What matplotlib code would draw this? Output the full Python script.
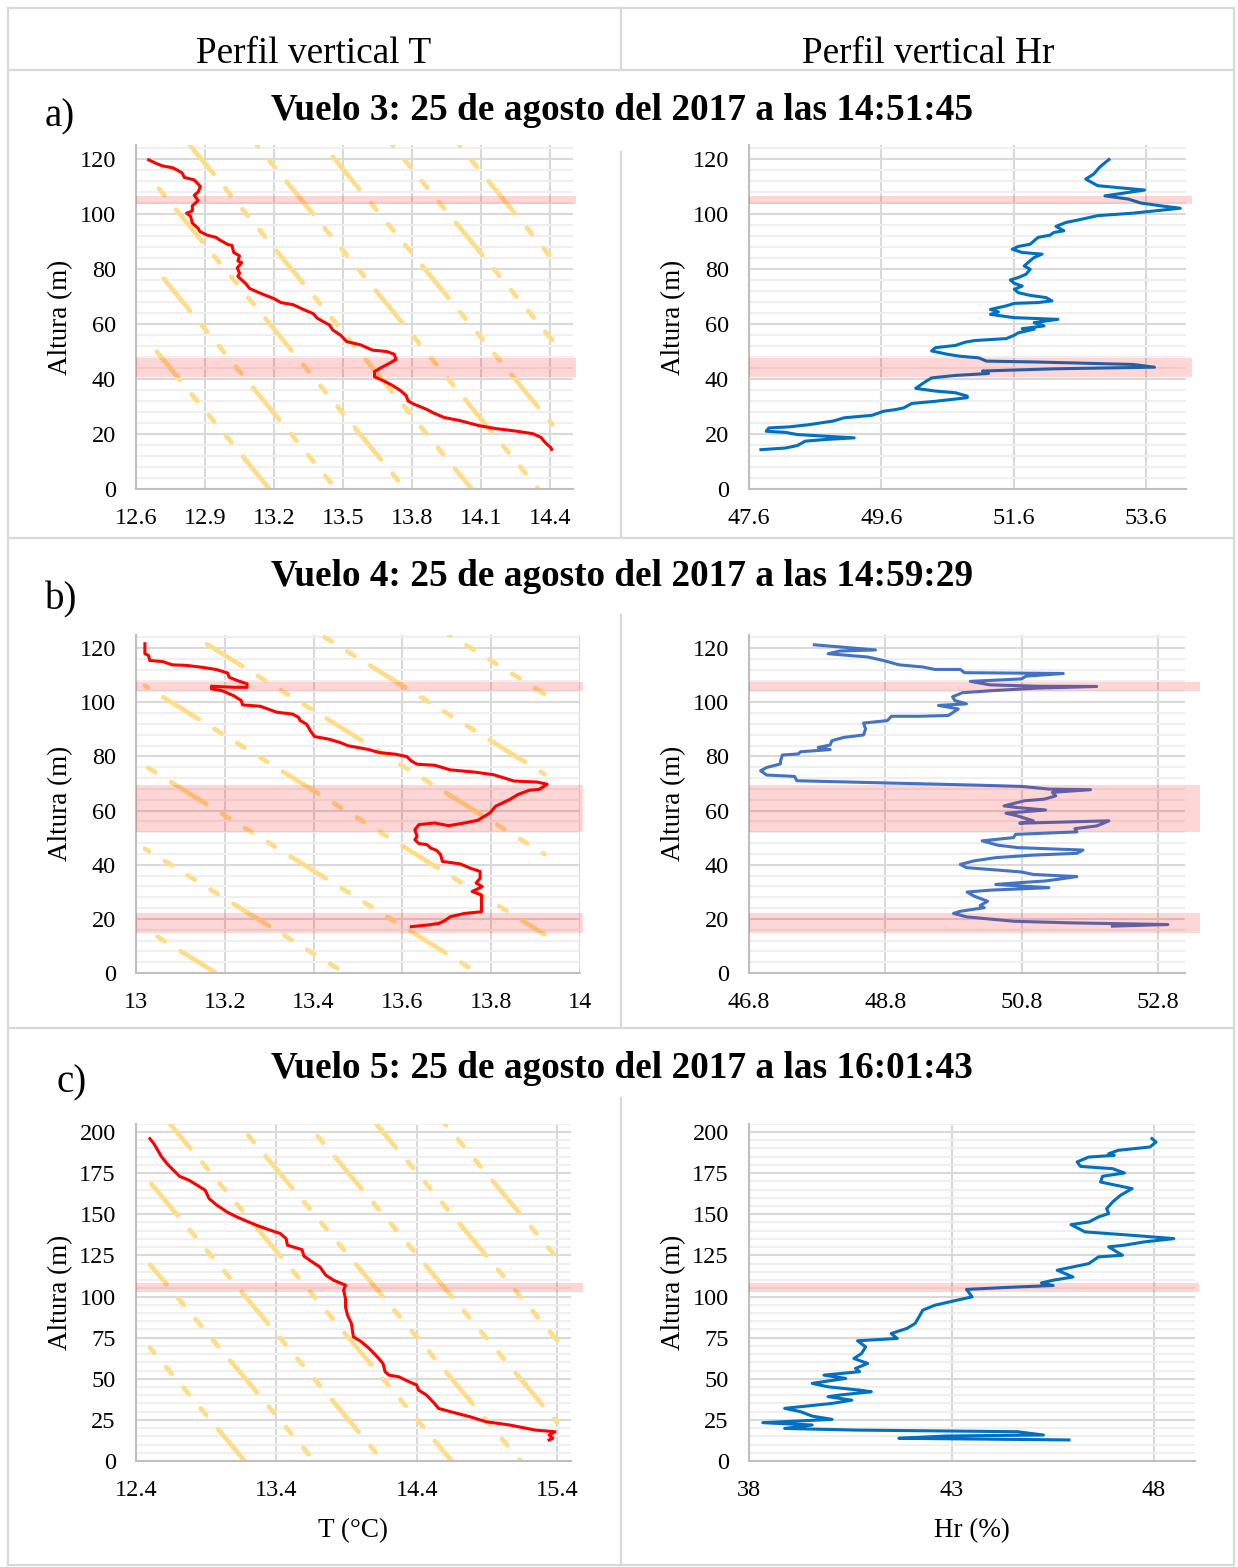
import matplotlib
matplotlib.use('Agg')
import matplotlib.pyplot as plt
from matplotlib.lines import Line2D
import numpy as np

plt.rcParams['font.family'] = ['Liberation Serif', 'DejaVu Serif']
plt.rcParams['lines.scale_dashes'] = False

# ---------------- DATA ----------------
header_titles = ['Perfil vertical T', 'Perfil vertical Hr']
flight_titles = ['Vuelo 3: 25 de agosto del 2017 a las 14:51:45',
                 'Vuelo 4: 25 de agosto del 2017 a las 14:59:29',
                 'Vuelo 5: 25 de agosto del 2017 a las 16:01:43']
panel_letters = ['a)', 'b)', 'c)']

# Vuelo 3 - temperature
v3_T = [12.655, 12.69, 12.715, 12.76, 12.80, 12.81, 12.853, 12.88, 12.87, 12.853,
        12.87, 12.845, 12.845, 12.82, 12.837, 12.845, 12.87, 12.878, 12.91, 12.948,
        12.965, 13.0, 13.017, 13.025, 13.05, 13.043, 13.06, 13.04, 13.05, 13.043,
        13.06, 13.077, 13.094, 13.146, 13.198, 13.23, 13.284, 13.327, 13.37, 13.387,
        13.413, 13.44, 13.456, 13.49, 13.516, 13.577, 13.628, 13.69, 13.723, 13.73,
        13.706, 13.663, 13.637, 13.637, 13.68, 13.714, 13.75, 13.775, 13.783, 13.81,
        13.86, 13.895, 13.94, 14.007, 14.093, 14.162, 14.248, 14.326, 14.36, 14.378,
        14.403, 14.407]
v3_T_alt = [119.7, 118.3, 117.5, 116.8, 115, 113.3, 112.4, 110, 108, 106.8,
            104.9, 103, 101.1, 100.3, 99.2, 96.7, 94.8, 93.6, 92.3, 91.5,
            90.5, 88.9, 88.6, 86, 84.8, 82.9, 82.3, 80.4, 78.5, 77.3,
            76, 74.7, 72.9, 71, 69.3, 67.8, 67, 65.3, 63.8, 62.2,
            60.9, 59.7, 57.8, 55.9, 53.6, 52.4, 50.5, 50, 49, 47.1,
            45.9, 44, 42.7, 40.8, 39.2, 37.7, 35.8, 33.9, 32, 30.8,
            29.1, 27.6, 26, 24.9, 23, 22, 21.1, 20.1, 18.8, 17,
            15.1, 14.4]

# Vuelo 3 - relative humidity
v3_Hr = [47.78, 48.15, 48.33, 48.45, 48.75, 49.19, 48.75, 48.33, 48.15, 47.86,
         47.9, 48.21, 48.51, 48.87, 49.04, 49.46, 49.64, 49.82, 49.94, 50.06,
         50.42, 50.9, 50.9, 50.72, 50.42, 50.12, 50.24, 50.36, 50.72, 51.22,
         51.13, 52.21, 53.73, 53.4, 51.91, 51.19, 51.07, 50.78, 50.6, 50.36,
         50.42, 50.72, 50.87, 51.02, 51.49, 51.61, 51.67, 51.91, 51.73, 52.06,
         51.91, 52.27, 51.61, 51.25, 51.37, 51.25, 51.49, 51.61, 51.97, 52.18,
         52.09, 51.85, 51.67, 51.61, 51.73, 51.61, 51.55, 51.67, 51.79, 51.85,
         51.76, 51.85, 51.91, 52.03, 51.73, 51.58, 51.67, 51.85, 51.97, 52.15,
         52.21, 52.36, 52.24, 52.39, 52.63, 52.87, 53.4, 54.12, 53.88, 53.52,
         53.34, 52.98, 53.58, 52.87, 52.69, 52.81, 52.9, 53.04]
v3_Hr_alt = [14.3, 14.9, 15.8, 17.4, 18, 18.6, 19.2, 19.8, 20.6, 21,
             22.2, 22.6, 23.4, 24.7, 25.9, 26.8, 28.3, 28.9, 29.5, 31.1,
             31.9, 33.2, 33.8, 35, 35.6, 36.6, 38.6, 40.4, 41.3, 42,
             42.9, 43.7, 44.3, 45.3, 46.2, 46.5, 47.7, 48.3, 49, 50.2,
             51.4, 52.2, 53.4, 54, 54.7, 55.9, 56.8, 58.1, 58.3, 59.3,
             60.5, 61.7, 62.3, 63.5, 64.4, 65.3, 66.6, 67.5, 67.8, 68.4,
             69.6, 70.4, 71.4, 72.6, 73.8, 74.8, 76, 76.9, 78.1, 79.9,
             81.1, 83, 84.2, 85.4, 86, 87.2, 88.2, 89, 91.5, 92.3,
             93.3, 93.9, 95.5, 96.9, 98.1, 99.4, 100.3, 102.1, 102.8, 104,
             105.4, 106.6, 108.7, 110.3, 112.7, 114.5, 117, 119.8]

# Vuelo 4 - temperature
v4_T = [13.02, 13.02, 13.028, 13.031, 13.06, 13.082, 13.113, 13.148, 13.18, 13.206,
        13.21, 13.228, 13.25, 13.25, 13.22, 13.17, 13.17, 13.193, 13.22, 13.237,
        13.24, 13.28, 13.317, 13.353, 13.366, 13.37, 13.384, 13.393, 13.402, 13.433,
        13.46, 13.478, 13.522, 13.548, 13.584, 13.61, 13.62, 13.633, 13.673, 13.708,
        13.762, 13.806, 13.851, 13.904, 13.926, 13.908, 13.886, 13.86, 13.842, 13.81,
        13.797, 13.77, 13.74, 13.704, 13.673, 13.637, 13.628, 13.633, 13.628, 13.637,
        13.655, 13.664, 13.677, 13.686, 13.69, 13.73, 13.753, 13.775, 13.775, 13.766,
        13.78, 13.757, 13.778, 13.778, 13.778, 13.74, 13.708, 13.695, 13.682, 13.655,
        13.62]
v4_T_alt = [121.6, 117.9, 117.3, 115.4, 115, 113.8, 113.6, 112.9, 112.1, 110.8,
            109.2, 108, 106.8, 105.5, 105.5, 105.9, 104.9, 104.3, 102.4, 100.6,
            99, 98.5, 96.3, 95.6, 94.4, 93.2, 91.9, 89.4, 87.3, 86.4,
            85.1, 83.9, 82.6, 81.4, 80.8, 79.9, 78.3, 77.1, 76.7, 75,
            74.2, 73.2, 70.9, 70.5, 69.7, 67.8, 67.5, 65.9, 64.1, 61.6,
            59.1, 56.4, 55.4, 54.4, 55.4, 54.8, 52.9, 50.5, 49.2, 47.8,
            47.4, 46.1, 45.3, 43.7, 41.2, 40.3, 38.7, 37.5, 35, 33.2,
            31.9, 30.1, 28.8, 25.7, 22.6, 22, 20.8, 19.3, 18.3, 17.7,
            17.1]

# Vuelo 4 - relative humidity
v4_Hr = [47.757, 48.655, 48.133, 47.96, 48.539, 48.771, 49.003, 49.35, 49.525, 49.9,
         49.96, 51.41, 50.86, 50.8, 50.046, 50.336, 51.03, 51.9, 51.03, 50.39,
         49.93, 49.786, 49.82, 49.99, 49.58, 49.87, 49.725, 49.29, 48.887, 48.83,
         48.48, 48.51, 48.48, 48.19, 48.017, 47.99, 47.815, 47.99, 47.554, 47.525,
         47.29, 47.264, 47.26, 47.06, 46.97, 47.06, 47.47, 47.5, 48.945, 50.1,
         50.8, 51.206, 51.81, 51.25, 51.3, 51.13, 50.84, 50.54, 50.74, 51.15,
         50.57, 50.74, 50.97, 50.77, 52.08, 51.9, 51.58, 51.61, 50.71, 50.68,
         50.22, 50.45, 50.74, 51.7, 51.61, 50.945, 50.42, 50.1, 49.9, 49.99,
         50.45, 50.8, 50.97, 51.61, 51.33, 51.15, 50.74, 50.42, 51.2, 50.34,
         50.0, 50.1, 50.3, 50.19, 50.25, 49.9, 49.8, 50.0, 50.69, 51.55,
         52.945, 52.13]
v4_Hr_alt = [121.2, 119.3, 118.9, 117.9, 116.7, 115.4, 113.8, 113, 112.1, 112.1,
             110.9, 110.6, 109.6, 108.6, 107.7, 106.4, 105.9, 105.8, 105.2, 104.3,
             103.5, 102, 100.6, 99.4, 98.8, 97.5, 95.1, 94.8, 94.8, 93.2,
             92.3, 90.1, 87.9, 87, 85.8, 84.2, 83.3, 82.5, 81.7, 80.9,
             80.5, 78.4, 77.2, 75.9, 74.7, 73.1, 72.6, 71, 70.1, 69.4,
             68.9, 67.9, 67.7, 66.7, 65.4, 64.2, 63.6, 61.7, 61.1, 60.2,
             59, 58, 56.2, 55.3, 56.2, 54.3, 53.3, 52.1, 51.2, 50,
             48.8, 47.2, 46.3, 45.4, 44.2, 43.5, 42.6, 41.4, 40.1, 38.9,
             38, 37.3, 36.4, 35.6, 34.6, 34, 33.3, 32.7, 31.5, 30.6,
             29.9, 28.4, 26.5, 24.9, 24.1, 22.8, 22, 20.7, 19.1, 18.5,
             17.9, 17.3]

# Vuelo 5 - temperature
v5_T = [12.499, 12.527, 12.555, 12.583, 12.625, 12.668, 12.71, 12.78, 12.837, 12.893,
        12.921, 12.977, 13.048, 13.118, 13.203, 13.26, 13.344, 13.428, 13.47, 13.479,
        13.583, 13.597, 13.654, 13.71, 13.752, 13.808, 13.893, 13.879, 13.893, 13.893,
        13.907, 13.935, 13.949, 14.006, 14.062, 14.118, 14.16, 14.175, 14.203, 14.273,
        14.33, 14.4, 14.414, 14.47, 14.527, 14.555, 14.64, 14.78, 14.893, 15.062,
        15.245, 15.386, 15.344, 15.37, 15.344]
v5_T_alt = [196, 192.9, 188.9, 184.8, 180.4, 176.7, 173.1, 170.6, 167.6, 164.6,
            159.5, 155.5, 151.4, 148.4, 145.3, 143.3, 140.7, 138.3, 135.2, 131.2,
            128.5, 124.5, 121.1, 118, 113, 109.9, 106.9, 103.8, 98.8, 93.7,
            88.7, 83.6, 75.5, 72.5, 68.4, 63.4, 59.3, 54.3, 52.2, 51.2,
            48.8, 46.2, 43.1, 40.1, 35, 32, 30, 26.9, 23.9, 21.9,
            18.8, 17.8, 15.8, 13.8, 12.8]

# Vuelo 5 - relative humidity
v5_Hr = [47.95, 48.05, 47.9, 47.12, 46.88, 47.02, 46.39, 46.1, 46.19, 46.98,
         47.27, 46.73, 46.68, 47.07, 47.46, 47.17, 46.98, 46.83, 46.88, 46.63,
         46.39, 45.95, 46.14, 46.29, 47.46, 48.49, 47.76, 47.27, 46.88, 47.22,
         46.63, 46.39, 46.0, 45.61, 46.0, 45.51, 45.22, 45.51, 44.34, 43.37,
         43.51, 43.07, 42.59, 42.29, 42.2, 42.1, 41.9, 41.51, 41.66, 40.68,
         40.88, 40.78, 40.59, 40.93, 40.63, 40.73, 39.85, 40.39, 39.56, 39.95,
         40.73, 41.02, 40.24, 39.95, 40.54, 40.05, 38.88, 39.27, 39.56, 40.05,
         38.34, 39.56, 38.88, 40.63, 44.63, 45.27, 42.88, 41.7, 45.9]
v5_Hr_alt = [196, 193.9, 190.9, 188.9, 186.8, 185.8, 184.8, 181.8, 179.1, 177.7,
             175.1, 173.1, 169.6, 167.6, 165.6, 161.5, 157.5, 153.4, 150.4, 148.4,
             145.3, 143.7, 141.3, 139.3, 137.2, 135.2, 133.2, 131.2, 130.2, 125.1,
             124.1, 120, 118, 116, 111.9, 109.9, 108.3, 106.7, 105.5, 104.3,
             99.8, 97.4, 94.7, 91.7, 87.7, 83.6, 80.6, 77.5, 74.5, 73.1,
             69.4, 65.4, 62.3, 59.3, 56.3, 54.3, 52.2, 50.2, 47.2, 45.1,
             43.1, 42.1, 40.1, 39.1, 37, 35, 32, 30, 27.3, 25.3,
             23.3, 21.9, 19.8, 18.8, 17.8, 15.8, 15.2, 13.8, 12.8]

# Highlighted (inversion) layers, altitude ranges in m
v3_bands = [(103.6, 106.5), (40.7, 47.6)]
v4_bands = [(104.0, 107.4), (52.0, 69.3), (14.8, 22.0)]
v5_bands = [(102.8, 108.5)]

# Dry adiabats: surface temperature of each reference line (degC)
DRY_LAPSE = 0.0098  # degC per m
v3_adiabats = [13.18, 13.47, 13.77, 14.06, 14.35, 14.64, 14.94, 15.23]
v4_adiabats = [13.18, 13.47, 13.77, 14.06, 14.35, 14.64, 14.93]
v5_adiabats = [13.175, 13.67, 14.16, 14.65, 15.14, 15.63, 16.12, 16.61]

# Axis ticks
v3_T_ticks = [12.6, 12.9, 13.2, 13.5, 13.8, 14.1, 14.4]
v3_Hr_ticks = [47.6, 49.6, 51.6, 53.6]
v4_T_ticks = [13, 13.2, 13.4, 13.6, 13.8, 14]
v4_Hr_ticks = [46.8, 48.8, 50.8, 52.8]
v5_T_ticks = [12.4, 13.4, 14.4, 15.4]
v5_Hr_ticks = [38, 43, 48]
alt_ticks_120 = [0, 20, 40, 60, 80, 100, 120]
alt_ticks_200 = [0, 25, 50, 75, 100, 125, 150, 175, 200]

# ---------------- FIGURE ----------------
W, H = 1238, 1567
fig = plt.figure(figsize=(W / 100, H / 100), dpi=100)

GRID_MAJOR = '#D9D9D9'
GRID_MINOR = '#EFEFEF'
TABLE = '#D9D9D9'
ADIABAT = '#FFDD88'
DASH = (30, 13.2, 6.2, 13.2, 6.2, 13.2, 6.2, 13.2)


def ax_px(l, t, r, b):
    return fig.add_axes([l / W, 1 - b / H, (r - l) / W, (b - t) / H])


def tline(x0, y0, x1, y1):
    fig.add_artist(Line2D([x0 / W, x1 / W], [1 - y0 / H, 1 - y1 / H],
                          transform=fig.transFigure, color=TABLE, lw=1.6))


def setup(ax, xlim, xticks, ylim, yticks, minor_step, box_px):
    ax.set_xlim(xlim)
    ax.set_ylim(ylim)
    ax.set_xticks(xticks)
    ax.set_xticklabels([('%g' % v) for v in xticks])
    ax.set_yticks(yticks)
    ax.set_yticklabels([str(v) for v in yticks])
    ax.set_yticks(np.arange(0, ylim[1] + 0.01, minor_step), minor=True)
    ax.set_axisbelow(True)
    ax.grid(which='major', axis='both', color=GRID_MAJOR, lw=1.5)
    ax.grid(which='minor', axis='y', color=GRID_MINOR, lw=1.5)
    ax.tick_params(which='both', length=0, labelsize=17.5)
    ax.tick_params(axis='y', pad=14.5)
    ax.tick_params(axis='x', pad=14)
    for s in ['top', 'right']:
        ax.spines[s].set_visible(False)
    for s in ['left', 'bottom']:
        ax.spines[s].set_color('#BFBFBF')
        ax.spines[s].set_linewidth(1.5)
    l, r = box_px
    ax.set_ylabel('Altura (m)', fontsize=19.5)
    ax.yaxis.set_label_coords(-63 / (r - l), 0.5)


def adiabats(ax, T0s, xlo, xhi, zlo, zhi):
    for i, T0 in enumerate(T0s):
        za = max(zlo, (T0 - xhi) / DRY_LAPSE)
        zb = min(zhi, (T0 - xlo) / DRY_LAPSE)
        if zb <= za:
            continue
        zz = np.array([za, zb])
        tt = T0 - DRY_LAPSE * zz
        ax.plot(tt, zz, color=ADIABAT, lw=3.3, zorder=1.5,
                ls=((i * 37) % 100, DASH),
                dash_capstyle='round', solid_capstyle='round')


def bands(ax, spans, right_px, box_px):
    l, r = box_px
    for lo, hi in spans:
        ax.axhspan(lo, hi, xmin=0, xmax=(right_px - l) / (r - l), color='#FF0000',
                   alpha=0.16, lw=0, zorder=5, clip_on=False)


# table frame
tline(8, 8, 1234, 8)
tline(8, 1565, 1234, 1565)
tline(8, 8, 8, 1565)
tline(1234, 8, 1234, 1565)
tline(8, 70, 1234, 70)
tline(8, 538, 1234, 538)
tline(8, 1028, 1234, 1028)
tline(621, 8, 621, 70)
tline(621, 152, 621, 538)
tline(621, 615, 621, 1028)
tline(621, 1098, 621, 1565)

fig.text(314 / W, 1 - 54 / H, header_titles[0], ha='center', va='center', fontsize=26.8)
fig.text(928 / W, 1 - 54 / H, header_titles[1], ha='center', va='center', fontsize=26.8)

title_y = [110, 576, 1069]
letter_xy = [(60, 117), (61, 600), (72, 1083)]
for k in range(3):
    fig.text(622 / W, 1 - title_y[k] / H, flight_titles[k], ha='center', va='center',
             fontsize=26.8, fontweight='bold')
    fig.text(letter_xy[k][0] / W, 1 - letter_xy[k][1] / H, panel_letters[k],
             ha='center', va='center', fontsize=28)

# ---- Vuelo 3 ----
boxA = (136, 573)
ax = ax_px(136, 145.25, 573, 489)
setup(ax, (12.6, 14.5), v3_T_ticks, (0, 125), alt_ticks_120, 4, boxA)
adiabats(ax, v3_adiabats, 12.69, 14.41, 0, 125)
ax.plot(v3_T, v3_T_alt, color='#FF0000', lw=2.2, zorder=3)
bands(ax, v3_bands, 576, boxA)

boxB = (749, 1185.6)
ax = ax_px(749, 145.25, 1185.6, 489)
setup(ax, (47.6, 54.2), v3_Hr_ticks, (0, 125), alt_ticks_120, 4, boxB)
ax.plot(v3_Hr, v3_Hr_alt, color='#0070C0', lw=2.2, zorder=3)
bands(ax, v3_bands, 1192, boxB)

# ---- Vuelo 4 ----
boxA = (136, 580)
ax = ax_px(136, 634.5, 580, 973)
setup(ax, (13, 14), v4_T_ticks, (0, 125), alt_ticks_120, 4, boxA)
adiabats(ax, v4_adiabats, 13.02, 13.92, 0, 125)
ax.plot(v4_T, v4_T_alt, color='#FF0000', lw=2.2, zorder=3)
bands(ax, v4_bands, 583, boxA)

boxB = (749, 1185.3)
ax = ax_px(749, 634.5, 1185.3, 973)
setup(ax, (46.8, 53.2), v4_Hr_ticks, (0, 125), alt_ticks_120, 4, boxB)
ax.plot(v4_Hr, v4_Hr_alt, color='#4472C4', lw=2.2, zorder=3)
bands(ax, v4_bands, 1200, boxB)

# ---- Vuelo 5 ----
boxA = (136, 571)
ax = ax_px(136, 1123.8, 571, 1461)
setup(ax, (12.4, 15.5), v5_T_ticks, (0, 205), alt_ticks_200, 5, boxA)
adiabats(ax, v5_adiabats, 12.5, 15.4, 0, 205)
ax.plot(v5_T, v5_T_alt, color='#FF0000', lw=2.2, zorder=3)
bands(ax, v5_bands, 583, boxA)
ax.set_xlabel('T (°C)', fontsize=19.5)
ax.xaxis.set_label_coords(0.5, -(1518 - 1461) / (1461 - 1123.8))

boxB = (749, 1194.5)
ax = ax_px(749, 1123.8, 1194.5, 1461)
setup(ax, (38, 49), v5_Hr_ticks, (0, 205), alt_ticks_200, 5, boxB)
ax.plot(v5_Hr, v5_Hr_alt, color='#0070C0', lw=2.2, zorder=3)
bands(ax, v5_bands, 1199, boxB)
ax.set_xlabel('Hr (%)', fontsize=19.5)
ax.xaxis.set_label_coords(0.5, -(1518 - 1461) / (1461 - 1123.8))

fig.savefig('out.png', dpi=100)
